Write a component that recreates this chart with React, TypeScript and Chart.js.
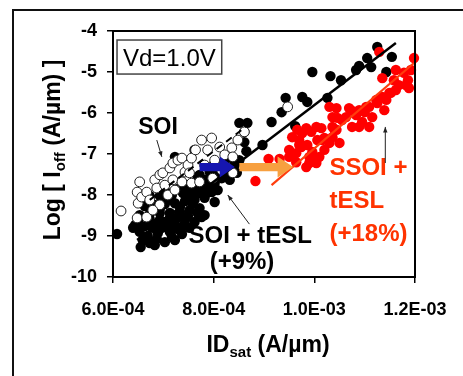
import React, { useEffect, useRef } from "react";
import { Chart, registerables } from "chart.js";

Chart.register(...registerables);

const FONT = '"Liberation Sans", Arial, Helvetica, sans-serif';

// ---- axes ----
const X_TICKS = [6.0e-4, 8.0e-4, 1.0e-3, 1.2e-3];
const Y_TICKS = [-4, -5, -6, -7, -8, -9, -10];
const X_MIN = 6.0e-4;
const X_MAX = 1.2e-3;
const Y_MIN = -10;
const Y_MAX = -4;

// ---- SOI (open circles) ----
const SOI_IDSAT = [
  6.16e-4, 6.48e-4, 6.5e-4, 6.53e-4, 6.48e-4, 6.57e-4, 6.67e-4, 6.67e-4, 6.73e-4, 6.83e-4,
  6.87e-4, 6.93e-4, 6.99e-4, 7.03e-4, 7.09e-4, 7.13e-4, 7.19e-4, 7.19e-4, 7.23e-4, 7.29e-4,
  7.37e-4, 7.37e-4, 7.43e-4, 7.49e-4, 7.52e-4, 7.56e-4, 7.56e-4, 7.64e-4, 7.72e-4, 7.76e-4,
  7.82e-4, 7.88e-4, 7.96e-4, 7.98e-4, 8.02e-4, 8.12e-4, 8.16e-4, 8.22e-4, 8.36e-4, 8.38e-4,
  8.38e-4, 8.48e-4, 8.61e-4, 9.47e-4, 6.93e-4, 6.79e-4,
];
const SOI_LOGIOFF = [
  -8.39, -8.56, -8.2, -7.68, -7.93, -8.05, -7.93, -8.54, -8.12, -7.63,
  -7.83, -7.51, -7.46, -7.76, -8.0, -7.34, -7.22, -7.63, -7.88, -7.15,
  -7.1, -7.68, -7.44, -7.27, -7.46, -7.1, -7.71, -6.9, -7.68, -6.66,
  -7.27, -6.9, -6.61, -7.59, -7.15, -6.83, -7.39, -7.02, -6.85, -7.07,
  -7.46, -6.66, -6.46, -5.85, -8.24, -8.37,
];

// ---- SOI + tESL (filled black) ----
const TESL_IDSAT = [
  6.73e-4, 7.03e-4, 7.23e-4, 6.53e-4, 6.69e-4, 6.89e-4, 7.13e-4, 7.37e-4, 7.52e-4, 6.44e-4,
  6.63e-4, 6.83e-4, 7.03e-4, 7.23e-4, 7.43e-4, 7.62e-4, 6.53e-4, 6.73e-4, 6.93e-4, 7.13e-4,
  7.33e-4, 7.52e-4, 7.72e-4, 6.63e-4, 6.83e-4, 7.03e-4, 7.23e-4, 7.43e-4, 7.62e-4, 7.82e-4,
  6.73e-4, 6.93e-4, 7.17e-4, 7.39e-4, 7.58e-4, 7.78e-4, 7.96e-4, 7.43e-4, 7.62e-4, 7.82e-4,
  8.02e-4, 8.16e-4, 7.72e-4, 7.92e-4, 8.12e-4, 8.28e-4, 8.42e-4, 8.02e-4, 8.22e-4, 8.36e-4,
  8.51e-4, 6.59e-4, 6.87e-4, 7.17e-4, 6.97e-4, 7.29e-4, 6.73e-4, 7.13e-4, 7.49e-4, 6.93e-4,
  7.33e-4, 7.68e-4, 7.13e-4, 7.52e-4, 7.29e-4, 7.72e-4, 7.92e-4, 7.64e-4, 8.08e-4, 7.88e-4,
  8.22e-4, 6.08e-4, 6.55e-4, 7.76e-4, 8.02e-4, 7.23e-4, 7.62e-4, 8.51e-4, 8.67e-4, 8.61e-4,
  8.61e-4, 8.65e-4, 8.97e-4, 9.15e-4, 9.35e-4, 9.43e-4, 9.62e-4, 9.76e-4, 9.86e-4, 9.96e-4,
  10.32e-4, 10.26e-4, 10.53e-4, 10.89e-4, 11.05e-4, 11.13e-4, 11.25e-4, 11.43e-4, 11.54e-4, 10.83e-4,
  8.26e-4, 8.46e-4, 8.22e-4, 7.96e-4, 6.4e-4, 6.5e-4, 6.79e-4, 7.09e-4, 7.39e-4, 6.93e-4,
  7.29e-4, 7.58e-4, 7.49e-4, 7.86e-4, 8.08e-4, 8.32e-4, 7.03e-4, 7.68e-4, 6.83e-4, 7.82e-4,
];
const TESL_LOGIOFF = [
  -9.17, -9.15, -9.1, -8.9, -9.0, -8.93, -8.9, -8.95, -8.8, -8.73,
  -8.76, -8.71, -8.66, -8.71, -8.61, -8.66, -8.49, -8.46, -8.44, -8.44,
  -8.41, -8.37, -8.32, -8.27, -8.24, -8.22, -8.2, -8.15, -8.12, -8.07,
  -8.02, -8.02, -8.0, -7.95, -7.9, -7.85, -7.93, -7.76, -7.71, -7.63,
  -7.71, -7.59, -7.51, -7.44, -7.39, -7.34, -7.27, -7.22, -7.15, -7.1,
  -7.15, -9.1, -9.07, -9.02, -8.8, -8.83, -8.59, -8.56, -8.51, -8.34,
  -8.29, -8.44, -8.1, -8.02, -7.85, -7.95, -7.78, -7.83, -7.51, -7.32,
  -7.39, -8.95, -9.27, -8.54, -8.17, -7.07, -6.9, -6.24, -6.24, -6.46,
  -6.71, -6.93, -6.78, -6.22, -5.98, -5.63, -6.32, -5.61, -5.73, -5.0,
  -5.1, -5.63, -5.2, -4.85, -4.66, -4.88, -4.39, -5.0, -4.63, -4.95,
  -7.46, -7.46, -7.56, -7.8, -8.8, -8.61, -8.8, -8.76, -8.76, -8.61,
  -8.54, -8.22, -7.9, -7.95, -7.88, -7.63, -7.88, -7.56, -9.22, -8.49,
];

// ---- SSOI + tESL (filled red) ----
const SSOI_IDSAT = [
  8.83e-4, 9.09e-4, 9.31e-4, 9.5e-4, 9.64e-4, 9.5e-4, 9.7e-4, 9.76e-4, 9.84e-4, 9.94e-4,
  10.04e-4, 9.74e-4, 9.86e-4, 9.96e-4, 10.06e-4, 9.9e-4, 10.04e-4, 10.1e-4, 10.2e-4, 10.3e-4,
  10.36e-4, 10.44e-4, 10.5e-4, 10.46e-4, 10.3e-4, 10.44e-4, 10.69e-4, 10.83e-4, 10.95e-4, 11.09e-4,
  11.0e-4, 11.03e-4, 11.15e-4, 11.23e-4, 11.35e-4, 11.43e-4, 11.49e-4, 11.39e-4, 11.35e-4, 11.62e-4,
  11.78e-4, 11.68e-4, 11.82e-4, 11.86e-4, 11.98e-4, 11.29e-4, 10.14e-4, 9.56e-4, 9.66e-4, 9.84e-4,
  9.96e-4, 10.2e-4, 10.36e-4, 10.63e-4, 10.75e-4, 10.89e-4, 10.36e-4, 10.55e-4, 10.73e-4, 10.89e-4,
  11.09e-4, 11.25e-4, 11.52e-4, 9.7e-4, 9.64e-4, 10.16e-4, 10.4e-4, 9.9e-4, 11.88e-4, 11.62e-4,
  11.92e-4, 11.58e-4,
];
const SSOI_LOGIOFF = [
  -7.66, -7.12, -7.12, -7.07, -6.98, -6.9, -6.66, -6.49, -6.37, -6.46,
  -6.34, -6.83, -6.78, -6.95, -6.66, -7.07, -7.22, -7.07, -6.9, -6.73,
  -6.59, -6.41, -6.73, -6.12, -5.85, -5.88, -5.88, -6.05, -6.22, -6.34,
  -5.98, -5.85, -6.1, -5.68, -5.61, -5.68, -5.51, -5.93, -5.15, -4.95,
  -5.02, -5.32, -5.32, -5.2, -4.66, -4.51, -6.37, -6.59, -6.41, -7.32,
  -7.15, -6.61, -6.34, -6.1, -6.34, -6.34, -6.1, -6.17, -5.93, -5.93,
  -5.85, -5.76, -5.51, -6.78, -7.2, -6.66, -6.41, -7.22, -5.39, -5.44,
  -4.95, -5.2,
];

// ---- fit lines ----
const FIT_TESL_X = [6.48e-4, 11.62e-4];
const FIT_TESL_Y = [-9.1, -4.29];
const FIT_SOI_X = [6.73e-4, 8.71e-4];
const FIT_SOI_Y = [-8.12, -6.27];
const FIT_SSOI_X = [9.15e-4, 11.98e-4];
const FIT_SSOI_Y = [-7.76, -4.78];

// ---- shift arrows (data coords) ----
const SHIFT_Y = -7.32;
const BLUE_ARROW_X = [7.72e-4, 8.12e-4, 8.42e-4]; // start, head start, tip
const ORANGE_ARROW_X = [8.51e-4, 9.27e-4, 9.58e-4];

const pts = (xs: number[], ys: number[]) => xs.map((x, i) => ({ x, y: ys[i] }));

function fmtExp(v: number) {
  const [m, e] = v.toExponential(1).split("e");
  const n = parseInt(e, 10);
  return m + "E" + (n < 0 ? "-" : "+") + String(Math.abs(n)).padStart(2, "0");
}

type Part = { t: string; sub?: boolean };

function drawParts(ctx: CanvasRenderingContext2D, parts: Part[], x: number, y: number, size: number, weight: string, align: "left" | "center") {
  const f = (p: Part) => `${weight} ${p.sub ? Math.round(size * 0.66) : size}px ${FONT}`;
  let total = 0;
  for (const p of parts) {
    ctx.font = f(p);
    total += ctx.measureText(p.t).width;
  }
  let cx = align === "center" ? x - total / 2 : x;
  ctx.textAlign = "left";
  ctx.textBaseline = "alphabetic";
  for (const p of parts) {
    ctx.font = f(p);
    ctx.fillText(p.t, cx, y + (p.sub ? size * 0.22 : 0));
    cx += ctx.measureText(p.t).width;
  }
}

function thinArrow(ctx: CanvasRenderingContext2D, x0: number, y0: number, x1: number, y1: number) {
  ctx.save();
  ctx.strokeStyle = "#222";
  ctx.fillStyle = "#222";
  ctx.lineWidth = 1;
  ctx.beginPath();
  ctx.moveTo(x0, y0);
  ctx.lineTo(x1, y1);
  ctx.stroke();
  const a = Math.atan2(y1 - y0, x1 - x0);
  const L = 6;
  const w = 0.38;
  ctx.beginPath();
  ctx.moveTo(x1, y1);
  ctx.lineTo(x1 - L * Math.cos(a - w), y1 - L * Math.sin(a - w));
  ctx.lineTo(x1 - L * Math.cos(a + w), y1 - L * Math.sin(a + w));
  ctx.closePath();
  ctx.fill();
  ctx.restore();
}

function thickArrow(ctx: CanvasRenderingContext2D, x0: number, xh: number, x1: number, yc: number, color: string) {
  const s = 4.2;
  const h = 10.5;
  ctx.save();
  ctx.fillStyle = color;
  ctx.beginPath();
  ctx.moveTo(x0, yc - s);
  ctx.lineTo(xh, yc - s);
  ctx.lineTo(xh, yc - h);
  ctx.lineTo(x1, yc);
  ctx.lineTo(xh, yc + h);
  ctx.lineTo(xh, yc + s);
  ctx.lineTo(x0, yc + s);
  ctx.closePath();
  ctx.fill();
  ctx.restore();
}

const annotate = {
  id: "annotate",
  beforeDraw(chart: any) {
    const { ctx, width, height } = chart;
    ctx.save();
    ctx.fillStyle = "#fff";
    ctx.fillRect(0, 0, width, height);
    ctx.restore();
  },
  afterDatasetsDraw(chart: any) {
    const { ctx, chartArea: a, scales } = chart;
    const px = (v: number) => scales.x.getPixelForValue(v);
    const py = (v: number) => scales.y.getPixelForValue(v);
    ctx.save();

    // plot frame
    ctx.strokeStyle = "#000";
    ctx.lineWidth = 2;
    ctx.strokeRect(a.left, a.top, a.right - a.left, a.bottom - a.top);

    // Vd box
    const bx0 = px(6.08e-4), bx1 = px(8.16e-4), by0 = py(-4.22), by1 = py(-5.05);
    ctx.fillStyle = "#fff";
    ctx.fillRect(bx0, by0, bx1 - bx0, by1 - by0);
    ctx.strokeStyle = "#444";
    ctx.lineWidth = 1.5;
    ctx.strokeRect(bx0, by0, bx1 - bx0, by1 - by0);
    ctx.fillStyle = "#000";
    drawParts(ctx, [{ t: "Vd=1.0V" }], (bx0 + bx1) / 2, py(-4.83) + 1, 24, "normal", "center");

    // shift arrows
    thickArrow(ctx, px(BLUE_ARROW_X[0]), px(BLUE_ARROW_X[1]), px(BLUE_ARROW_X[2]), py(SHIFT_Y), "#1616B0");
    thickArrow(ctx, px(ORANGE_ARROW_X[0]), px(ORANGE_ARROW_X[1]), px(ORANGE_ARROW_X[2]), py(SHIFT_Y), "#F7A040");

    // labels
    ctx.fillStyle = "#000";
    drawParts(ctx, [{ t: "SOI" }], px(6.5e-4), py(-6.51), 23, "bold", "left");
    thinArrow(ctx, px(6.87e-4), py(-6.66), px(6.97e-4), py(-7.07));

    drawParts(ctx, [{ t: "SOI + tESL" }], px(7.5e-4), py(-9.17), 24, "bold", "left");
    drawParts(ctx, [{ t: "(+9%)" }], px(7.92e-4), py(-9.8), 24, "bold", "left");
    thinArrow(ctx, px(8.71e-4), py(-8.71), px(8.28e-4), py(-8.0));

    ctx.fillStyle = "#FF3300";
    drawParts(ctx, [{ t: "SSOI +" }], px(10.3e-4), py(-7.51), 24, "bold", "left");
    drawParts(ctx, [{ t: "tESL" }], px(10.3e-4), py(-8.32), 24, "bold", "left");
    drawParts(ctx, [{ t: "(+18%)" }], px(10.3e-4), py(-9.12), 24, "bold", "left");
    thinArrow(ctx, px(11.41e-4), py(-7.22), px(11.41e-4), py(-6.34));

    ctx.restore();
  },
  afterDraw(chart: any) {
    const { ctx } = chart;
    ctx.save();
    // the source image is cut through the last tick label
    ctx.fillStyle = "#fff";
    ctx.fillRect(450, 292, 13, 30);

    ctx.fillStyle = "#000";
    // x title
    drawParts(ctx, [{ t: "ID" }, { t: "sat", sub: true }, { t: " (A/\u00b5m)" }], 268, 352, 23, "bold", "center");
    // y title
    ctx.save();
    ctx.translate(60, 150);
    ctx.rotate(-Math.PI / 2);
    drawParts(ctx, [{ t: "Log [ I" }, { t: "off", sub: true }, { t: " (A/\u00b5m) ]" }], 0, 0, 23, "bold", "center");
    ctx.restore();

    // outer frame (left and top edges)
    ctx.strokeStyle = "#111";
    ctx.lineWidth = 2;
    ctx.beginPath();
    ctx.moveTo(13, 376);
    ctx.lineTo(13, 10);
    ctx.lineTo(463, 10);
    ctx.stroke();
    ctx.restore();
  },
};

export default function App() {
  const ref = useRef<HTMLCanvasElement | null>(null);

  useEffect(() => {
    if (!ref.current) return;
    const tickFont = { family: FONT, size: 18, weight: "bold" as const };
    const chart = new Chart(ref.current, {
      type: "scatter",
      data: {
        datasets: [
          {
            label: "SSOI + tESL fit",
            data: pts(FIT_SSOI_X, FIT_SSOI_Y),
            showLine: true,
            borderColor: "#FF3D0D",
            borderWidth: 2.2,
            pointRadius: 0,
            order: 1,
            clip: false,
          },
          {
            label: "SOI + tESL fit",
            data: pts(FIT_TESL_X, FIT_TESL_Y),
            showLine: true,
            borderColor: "#000",
            borderWidth: 2.5,
            pointRadius: 0,
            order: 2,
            clip: false,
          },
          {
            label: "SOI fit",
            data: pts(FIT_SOI_X, FIT_SOI_Y),
            showLine: true,
            borderColor: "#000",
            borderWidth: 2,
            borderDash: [7, 5],
            pointRadius: 0,
            order: 3,
            clip: false,
          },
          {
            label: "SSOI + tESL",
            data: pts(SSOI_IDSAT, SSOI_LOGIOFF),
            pointRadius: 5.2,
            pointBackgroundColor: "#FF0000",
            pointBorderColor: "#FF0000",
            pointBorderWidth: 0,
            order: 4,
            clip: 6,
          },
          {
            label: "SOI",
            data: pts(SOI_IDSAT, SOI_LOGIOFF),
            pointRadius: 4.9,
            pointBackgroundColor: "#FFFFFF",
            pointBorderColor: "#222",
            pointBorderWidth: 1,
            order: 5,
            clip: 6,
          },
          {
            label: "SOI + tESL",
            data: pts(TESL_IDSAT, TESL_LOGIOFF),
            pointRadius: 5.2,
            pointBackgroundColor: "#000",
            pointBorderColor: "#000",
            pointBorderWidth: 0,
            order: 6,
            clip: 6,
          },
        ],
      },
      options: {
        responsive: false,
        animation: false,
        devicePixelRatio: 1,
        layout: { padding: { top: 31, right: 48, left: 0, bottom: 0 } },
        plugins: { legend: { display: false }, tooltip: { enabled: false } },
        events: [],
        scales: {
          x: {
            type: "linear",
            min: X_MIN,
            max: X_MAX,
            afterBuildTicks: (s: any) => {
              s.ticks = X_TICKS.map((v) => ({ value: v }));
            },
            afterFit: (s: any) => {
              s.height = 99;
            },
            border: { display: false },
            grid: { drawOnChartArea: false, drawTicks: true, tickLength: 6, color: "#000", lineWidth: 1.5 },
            ticks: {
              autoSkip: false,
              maxRotation: 0,
              padding: 16,
              color: "#000",
              font: tickFont,
              callback: (v: any) => fmtExp(Number(v)),
            },
          },
          y: {
            type: "linear",
            min: Y_MIN,
            max: Y_MAX,
            afterBuildTicks: (s: any) => {
              s.ticks = Y_TICKS.map((v) => ({ value: v }));
            },
            afterFit: (s: any) => {
              s.width = 113;
            },
            border: { display: false },
            grid: { drawOnChartArea: false, drawTicks: true, tickLength: 6, color: "#000", lineWidth: 1.5 },
            ticks: {
              autoSkip: false,
              padding: 10,
              color: "#000",
              font: tickFont,
              callback: (v: any) => String(v),
            },
          },
        },
      },
      plugins: [annotate],
    });
    return () => chart.destroy();
  }, []);

  return (
    <div style={{ position: "fixed", left: 0, top: 0, width: 463, height: 376, background: "#fff" }}>
      <canvas ref={ref} width={463} height={376} style={{ width: 463, height: 376, display: "block" }} />
    </div>
  );
}
